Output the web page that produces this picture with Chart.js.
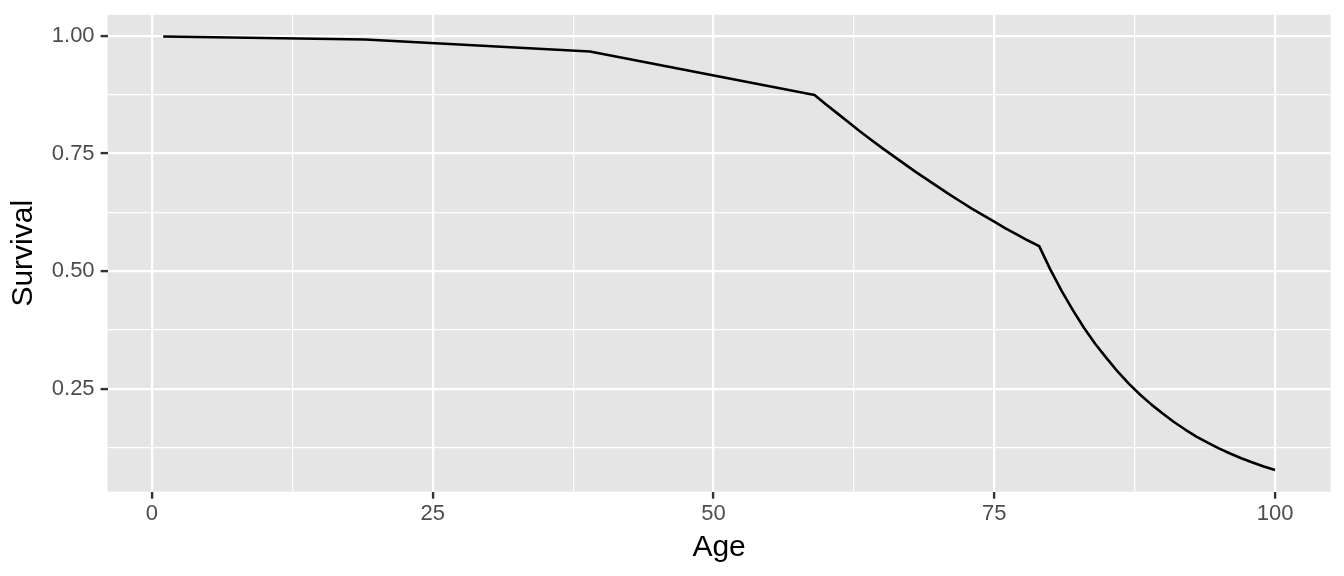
<!DOCTYPE html>
<html>
<head>
<meta charset="utf-8">
<script src="https://cdn.jsdelivr.net/npm/chart.js@4/dist/chart.umd.min.js"></script>
<style>
  html, body { margin: 0; padding: 0; background: #ffffff; }
  #wrap { width: 1344px; height: 576px; position: relative; }
</style>
</head>
<body>
<div id="wrap"><canvas id="c"></canvas></div>
<script>
// Values
const ages = [1, 19, 39, 59, 60, 61, 62, 63, 64, 65, 66, 67, 68, 69, 70, 71, 72, 73, 74, 75, 76, 77, 78, 79,
              80, 81, 82, 83, 84, 85, 86, 87, 88, 89, 90,
              91, 92, 93, 94, 95, 96, 97, 98, 99, 100];
const survival = [0.999, 0.9926, 0.967, 0.8745, 0.855, 0.836, 0.817, 0.798, 0.780, 0.762, 0.745, 0.728, 0.711, 0.695,
                  0.679, 0.663, 0.648, 0.633, 0.619, 0.605, 0.591, 0.578, 0.565, 0.553,
                  0.503, 0.458, 0.417, 0.379, 0.345, 0.315, 0.286, 0.260, 0.237, 0.216, 0.197,
                  0.179, 0.163, 0.148, 0.135, 0.123, 0.112, 0.102, 0.093, 0.0845, 0.077];
const xTicks = [0, 12.5, 25, 37.5, 50, 62.5, 75, 87.5, 100];
const xMajor = [0, 25, 50, 75, 100];
const yTicks = [0.125, 0.25, 0.375, 0.5, 0.625, 0.75, 0.875, 1.0];
const yMajor = [0.25, 0.5, 0.75, 1.0];
const xTitle = 'Age';
const yTitle = 'Survival';

const isMajorX = v => xMajor.some(m => Math.abs(m - v) < 1e-9);
const isMajorY = v => yMajor.some(m => Math.abs(m - v) < 1e-9);

Chart.defaults.font.family = "'Liberation Sans', Arial, Helvetica, sans-serif";

const panelBg = {
  id: 'panelBg',
  beforeDraw(chart) {
    const {ctx, chartArea: a} = chart;
    ctx.save();
    ctx.fillStyle = '#ffffff';
    ctx.fillRect(0, 0, chart.width, chart.height);
    ctx.fillStyle = '#E5E5E5';
    ctx.fillRect(a.left, a.top, a.right - a.left, a.bottom - a.top);
    ctx.restore();
  }
};

new Chart(document.getElementById('c'), {
  type: 'line',
  data: {
    datasets: [{
      data: ages.map((a, i) => ({x: a, y: survival[i]})),
      borderColor: '#000000',
      borderWidth: 2.6,
      borderJoinStyle: 'round',
      pointRadius: 0,
      tension: 0,
      fill: false
    }]
  },
  options: {
    responsive: true,
    maintainAspectRatio: false,
    animation: false,
    devicePixelRatio: 1,
    layout: { padding: { left: 0, top: 14.8, right: 13.4, bottom: 0 } },
    plugins: { legend: { display: false }, tooltip: { enabled: false } },
    scales: {
      x: {
        type: 'linear',
        min: -3.95,
        max: 104.95,
        afterBuildTicks: s => { s.ticks = xTicks.map(v => ({value: v})); },
        afterFit: s => { s.height = 84.3; s.paddingLeft = 0; s.paddingRight = 0; },
        border: { display: false },
        grid: {
          color: '#ffffff',
          lineWidth: c => isMajorX(c.tick.value) ? 2.2 : 1.2,
          tickColor: c => isMajorX(c.tick.value) ? '#333333' : 'rgba(0,0,0,0)',
          tickWidth: 2.4,
          tickLength: 7,
          drawTicks: true
        },
        ticks: {
          autoSkip: false,
          maxRotation: 0,
          padding: 2,
          color: '#4D4D4D',
          font: { size: 22 },
          callback: v => isMajorX(v) ? String(v) : ''
        },
        title: {
          display: true,
          text: xTitle,
          color: '#000000',
          font: { size: 30 },
          padding: { top: 0, bottom: 10.2 }
        }
      },
      y: {
        type: 'linear',
        min: 0.0308,
        max: 1.0451,
        afterBuildTicks: s => { s.ticks = yTicks.map(v => ({value: v})); },
        afterFit: s => { s.width = 107.6; s.paddingTop = 0; s.paddingBottom = 0; },
        border: { display: false },
        grid: {
          color: '#ffffff',
          lineWidth: c => isMajorY(c.tick.value) ? 2.2 : 1.2,
          tickColor: c => isMajorY(c.tick.value) ? '#333333' : 'rgba(0,0,0,0)',
          tickWidth: 2.4,
          tickLength: 7,
          drawTicks: true
        },
        ticks: {
          autoSkip: false,
          padding: 6,
          color: '#4D4D4D',
          font: { size: 22 },
          callback: v => isMajorY(v) ? v.toFixed(2) : ''
        },
        title: {
          display: true,
          text: yTitle,
          color: '#000000',
          font: { size: 30 },
          padding: { top: 6.2, bottom: 0 }
        }
      }
    }
  },
  plugins: [panelBg]
});
</script>
</body>
</html>
